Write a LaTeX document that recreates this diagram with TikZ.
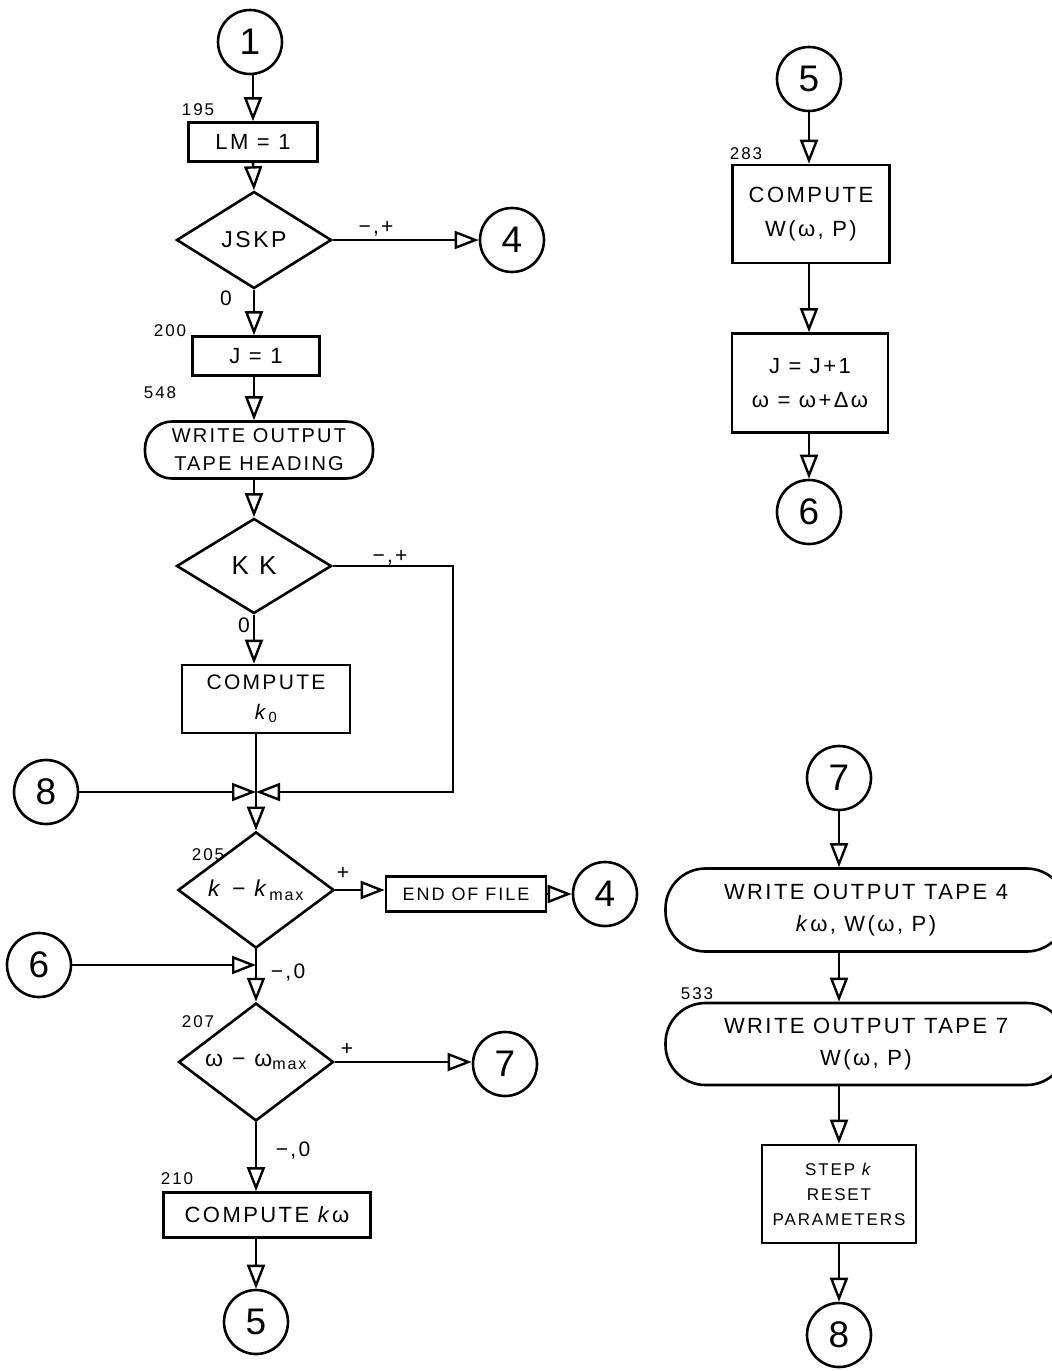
\documentclass[tikz,border=0pt]{standalone}
\usepackage{fontspec}
\setmainfont[LetterSpace=11]{Liberation Sans}
\usetikzlibrary{arrows.meta,shapes.geometric}
\newcommand{\kk}{\textit{k}}
\begin{document}
\begin{tikzpicture}[x=1pt,y=-1pt,
  line width=2.6pt,
  flow/.style={-{Triangle[open,length=24pt,width=18pt,line width=2.4pt]}},
  conn/.style={circle,draw,minimum size=64pt,inner sep=0pt,font=\fontsize{37}{38}\selectfont},
  box/.style={rectangle,draw,inner sep=2pt,align=center,font=\fontsize{22}{34}\selectfont},
  dec/.style={diamond,draw,inner sep=0pt,font=\fontsize{23}{26}\selectfont},
  term/.style={rectangle,draw,align=center,inner sep=0pt,font=\fontsize{22}{32}\selectfont},
  lab/.style={font=\fontsize{17}{18}\selectfont},
  branch/.style={font=\fontsize{21}{22}\selectfont}
]
\clip (0,0) rectangle (1052,1371);
\fill[white] (0,0) rectangle (1052,1371);

% ---------- left column ----------
\node[conn] (c1) at (250,42) {1};
\node[box,minimum width=129pt,minimum height=39pt] (lm) at (253,142) {LM = 1};
\node[lab] (l195) at (198,110) {195};
\node[dec,minimum width=155pt,minimum height=97pt] (jskp) at (254,240) {JSKP};
\node[conn] (c4a) at (512,240) {4};
\node[branch] (b1) at (376,229) {−,+};
\node[branch] (b2) at (226,298) {0};
\node[box,minimum width=127pt,minimum height=39pt] (j1) at (256,356) {J = 1};
\node[lab] (l200) at (170,331) {200};
\node[term,rounded corners=27pt,minimum width=228pt,minimum height=57pt,font=\fontsize{20}{28}\selectfont] (hd) at (259,450) {WRITE OUTPUT\\TAPE HEADING};
\node[lab] (l548) at (160,393) {548};
\node[dec,minimum width=155pt,minimum height=95pt,font=\fontsize{26}{28}\selectfont] (kk) at (254,566) {K K};
\node[branch] (b3) at (390,558) {−,+};
\node[branch] (b4) at (244,625) {0};
\node[box,minimum width=168pt,minimum height=68pt,font=\fontsize{21}{30}\selectfont] (k0) at (266,699) {COMPUTE\\\kk\textsubscript{0}};
\coordinate (kkr) at (453,566);
\coordinate (merge) at (256,792);
\node[conn] (c8a) at (46,792) {8};
\node[dec,minimum width=156pt,minimum height=98pt] (kmax) at (256,890) {\kk{} − \kk\textsubscript{max}};
\node[lab] (l205) at (208,855) {205};
\node[branch] (b5) at (343,873) {+};
\node[box,minimum width=160pt,minimum height=35pt,font=\fontsize{18}{20}\selectfont] (eof) at (466,894) {END OF FILE};
\node[conn] (c4b) at (605,894) {4};
\node[conn] (c6a) at (39,965) {6};
\coordinate (j6) at (256,965);
\node[branch] (b6) at (288,972) {−,0};
\node[dec,minimum width=155pt,minimum height=96pt] (wmax) at (256,1062) {ω − ω\textsubscript{max}};
\node[lab] (l207) at (198,1022) {207};
\node[branch] (b7) at (347,1049) {+};
\node[conn] (c7a) at (505,1064) {7};
\node[branch] (b8) at (293,1150) {−,0};
\node[box,minimum width=207pt,minimum height=45pt] (kw) at (267,1215) {COMPUTE \kk ω};
\node[lab] (l210) at (177,1179) {210};
\node[conn] (c5a) at (256,1322) {5};

% ---------- right column, top ----------
\node[conn] (c5b) at (809,79) {5};
\node[box,minimum width=157pt,minimum height=98pt] (ww) at (811,214) {COMPUTE\\W(ω, P)};
\node[lab] (l283) at (746,154) {283};
\node[box,minimum width=156pt,minimum height=99pt] (jj) at (810,383) {J = J+1\\ω = ω+Δω};
\node[conn] (c6b) at (809,512) {6};

% ---------- right column, bottom ----------
\node[conn] (c7b) at (839,778) {7};
\node[term,rounded corners=40pt,minimum width=401pt,minimum height=83pt] (t4) at (866,910) {WRITE OUTPUT TAPE 4\\\kk ω, W(ω, P)};
\node[term,rounded corners=40pt,minimum width=401pt,minimum height=82pt] (t7) at (866,1044) {WRITE OUTPUT TAPE 7\\W(ω, P)};
\node[lab] (l533) at (697,994) {533};
\node[box,minimum width=154pt,minimum height=98pt,font=\fontsize{17}{25}\selectfont] (st) at (839,1194) {STEP \kk\\RESET\\PARAMETERS};
\node[conn] (c8b) at (839,1335) {8};

% ---------- connectors, left ----------
\draw[flow] (c1.south -| lm.north) -- (lm.north);
\draw[flow] (lm.south) -- (jskp.north);
\draw[flow] (jskp.east) -- (c4a.west);
\draw[flow] (jskp.south) -- (jskp.south |- j1.north);
\draw[flow] (jskp.south |- j1.south) -- (jskp.south |- hd.north);
\draw[flow] (jskp.south |- hd.south) -- (kk.north);
\draw[flow] (kk.south) -- (kk.south |- k0.north);
\draw (k0.south -| merge) -- (merge);
\draw[flow] (kk.east) -- (kkr) |- (merge);
\draw[flow] (c8a.east) -- (merge);
\draw[flow] (merge) -- (kmax.north);
\draw[flow] (kmax.east) -- (kmax.east -| eof.west);
\draw[flow] (eof.east |- c4b.west) -- (c4b.west);
\draw[flow] (c6a.east) -- (j6);
\draw[flow] (kmax.south) -- (wmax.north);
\draw[flow] (wmax.east) -- (wmax.east -| c7a.west);
\draw[flow] (wmax.south) -- (wmax.south |- kw.north);
\draw[flow] (kw.south -| c5a.north) -- (c5a.north);

% ---------- connectors, right ----------
\draw[flow] (c5b.south) -- (c5b.south |- ww.north);
\draw[flow] (ww.south -| c5b.south) -- (c5b.south |- jj.north);
\draw[flow] (jj.south -| c6b.north) -- (c6b.north);
\draw[flow] (c7b.south) -- (c7b.south |- t4.north);
\draw[flow] (t4.south -| c7b.south) -- (c7b.south |- t7.north);
\draw[flow] (t7.south -| st.north) -- (st.north);
\draw[flow] (st.south -| c8b.north) -- (c8b.north);
\end{tikzpicture}
\end{document}
